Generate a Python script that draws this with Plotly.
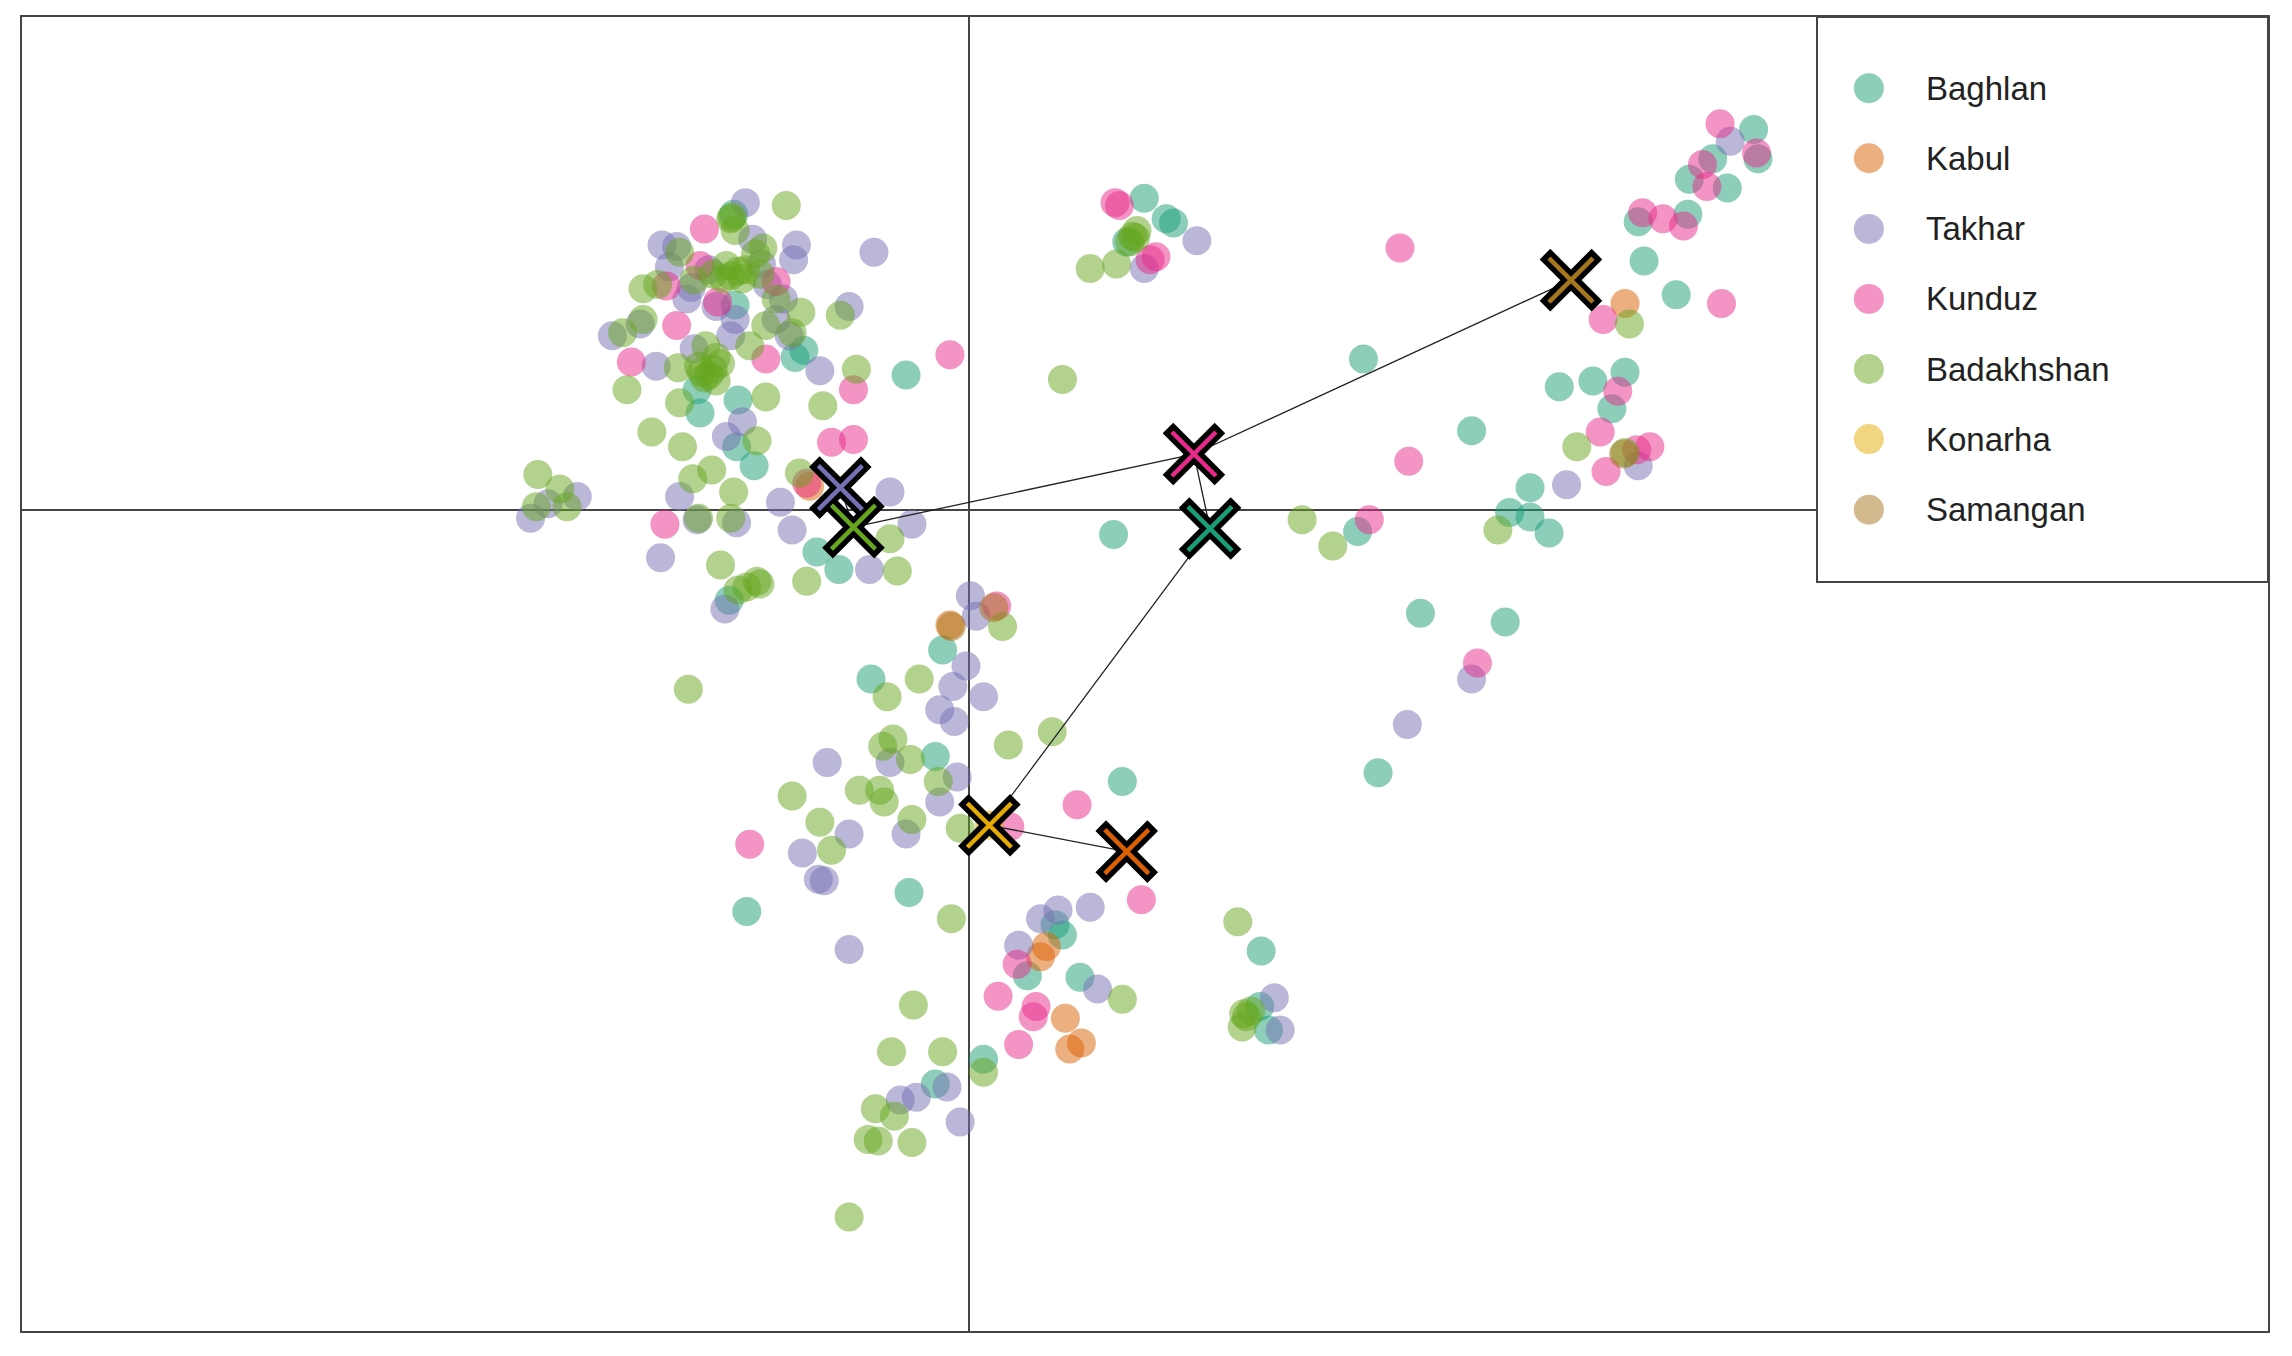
import plotly.graph_objects as go

# Scatter of individuals on the first two discriminant axes, coloured by province
GROUPS = ["Baghlan", "Kabul", "Takhar", "Kunduz", "Badakhshan", "Konarha", "Samangan"]
COLORS = ["#1B9E77", "#D95F02", "#7570B3", "#E7298A", "#66A61E", "#E6AB02", "#A6761D"]

baghlan_x = [-1.61, -1.19, -0.43, -1.58, -1.84, -1.59, -1.47, -1.04, -0.89, -1.64, -1.86, 1.20, 1.35, 1.40,
             1.08, 5.37, 5.40, 5.09, 4.93, 5.19, 4.58, 4.92, 4.62, 4.84, 4.04, 4.27, 4.49, 4.40, 3.44, 3.84,
             3.70, 3.84, 3.97, 2.66, 3.09, 3.67, 2.80, 2.70, 0.99, -0.18, -0.67, -0.23, -0.41, -1.52, 1.05,
             0.64, 0.59, 0.76, 0.40, 0.10, -0.23, 2.00, 1.99, 2.05, -1.60, -1.13]
baghlan_y = [2.02, 1.04, 0.92, 0.75, 0.66, 0.43, 0.30, -0.29, -0.41, -0.62, 0.82, 2.13, 1.99, 1.96,
             1.83, 2.60, 2.40, 2.40, 2.26, 2.20, 1.97, 2.02, 1.70, 1.47, 0.84, 0.88, 0.94, 0.69, 0.54, 0.15,
             -0.02, -0.05, -0.16, -0.15, -0.71, -0.77, -1.80, 1.03, -0.17, -0.96, -1.16, -1.69, -2.62, -2.75,
             -1.86, -2.91, -2.84, -3.20, -3.19, -3.76, -3.93, -3.02, -3.40, -3.56, 1.40, 1.09]

kabul_x = [4.49, 0.49, 0.53, 0.66, 0.77, 0.69, -0.13, -1.09]
kabul_y = [1.41, -3.06, -2.99, -3.48, -3.65, -3.69, -0.79, 0.16]

takhar_x = [-1.53, -2.10, -2.00, -1.18, -0.65, -1.20, -1.48, -1.27, -0.82, -2.44, -2.14, -1.02, -1.66,
            -1.98, -1.29, -0.54, -2.11, -1.86, -1.59, -1.21, -0.68, -0.39, -3.00, -2.68, -2.88, -1.73,
            -1.38, -1.93, -1.63, -1.23, -1.78, -1.67, 0.01, 0.05, -0.02, -0.11, 0.10, -0.20, -0.10, -0.54,
            -0.08, -0.97, -0.20, -0.43, -0.82, -1.14, -1.03, -0.82, -0.99, 0.49, 0.61, 0.83, 0.34, 0.88,
            -0.15, -0.36, -0.47, -0.06, 2.09, 2.13, 1.20, 1.56, 5.21, 4.58, 4.09, 3.44, 3.00,
            -2.05, -1.90, -1.42, -1.32, -1.60, -1.88, -1.55, -2.25]
takhar_y = [2.10, 1.81, 1.80, 1.81, 1.76, 1.71, 1.85, 1.44, 1.39, 1.19, 0.98, 0.95, 0.50,
            0.09, 0.05, 0.12, -0.33, -0.07, -0.09, -0.14, -0.41, -0.10, -0.06, 0.09, 0.04, 1.39,
            1.54, 1.44, 1.19, 1.19, 1.64, -0.68, -0.59, -0.73, -1.07, -1.21, -1.28, -1.37, -1.45, -1.73,
            -1.83, -1.73, -2.00, -2.22, -2.22, -2.35, -2.53, -3.01, -2.54, -2.80, -2.74, -2.72, -2.98, -3.28,
            -3.95, -4.02, -4.04, -4.19, -3.34, -3.56, 1.65, 1.84, 2.52, 0.30, 0.17, -1.16, -1.47,
            1.66, 1.52, 1.68, 1.30, 1.30, 1.10, 0.60, 1.27]

kunduz_x = [-1.81, -1.84, -2.07, -1.32, -2.00, -2.31, -1.39, -0.79, -0.13, -0.94, -0.79, -1.11, -2.08,
            -1.50, 0.19, 0.74, 0.28, 1.18, 0.33, 0.20, 0.46, 0.44, 0.34, 1.03, 1.00, 1.28, 1.24, 2.95,
            3.01, 2.74, 3.48, 5.14, 5.39, 5.02, 5.05, 4.75, 4.89, 4.61, 5.15, 4.34, 4.44, 4.32, 4.66,
            4.57, 4.36, -1.72]
kunduz_y = [1.92, 1.67, 1.53, 1.56, 1.26, 1.01, 1.03, 0.82, 1.06, 0.46, 0.48, 0.18, -0.10,
            -2.29, -0.66, -2.02, -2.17, -2.67, -3.11, -3.33, -3.40, -3.47, -3.66, 2.08, 2.10, 1.73, 1.71, 1.79,
            0.33, -0.07, -1.05, 2.64, 2.44, 2.36, 2.21, 1.99, 1.94, 2.03, 1.41, 1.30, 0.81, 0.53, 0.43,
            0.41, 0.26, 1.42]

badakhshan_x = [-1.25, -1.63, -1.60, -1.41, -1.98, -1.66, -1.53, -1.75, -1.43, -1.88, -2.23, -2.13, -1.32,
                -1.15, -0.88, -2.23, -2.37, -1.39, -1.21, -1.80, -1.73, -1.83, -1.75, -1.99, -2.34, -0.77,
                -1.39, -1.98, -1.00, -2.17, -1.96, -1.45, -1.89, -1.76, -1.61, -1.16, -2.95, -2.96, -2.75,
                -2.80, -1.85, -1.63, -0.54, -0.49, -1.11, -1.45, -1.58, -1.52, -1.43, 0.64, 1.12, 1.15, 0.83,
                1.01, 2.28, 2.49, 4.52, 4.16, 4.49, 3.62, -1.92, 0.23, -0.34, -0.56, -0.52, -0.59, -0.40,
                0.27, 0.57, -0.21, -0.75, -0.61, -0.58, -1.21, -0.06, -0.39, -1.02, -0.94, -0.12, -0.38,
                -0.53, -0.18, 0.10, -0.64, -0.51, -0.69, -0.62, -0.39, -0.82, 1.05, 1.84, 1.90, 1.87, 1.93,
                -1.63, -1.58, -1.68, -1.78, -1.81, -1.85, -1.73, -1.70, -1.50, -1.55, 1.14, 1.10, 1.88,
                -1.70, -1.46, -1.62]
badakhshan_y = [2.08, 1.99, 1.91, 1.79, 1.76, 1.67, 1.64, 1.61, 1.61, 1.57, 1.51, 1.54, 1.44,
                1.35, 1.33, 1.30, 1.21, 1.26, 1.21, 1.12, 1.04, 0.94, 0.96, 0.97, 0.82, 0.96,
                0.77, 0.73, 0.71, 0.53, 0.43, 0.47, 0.21, 0.27, 0.12, 0.25, 0.24, 0.02, 0.02,
                0.14, -0.06, -0.06, -0.20, -0.42, -0.49, -0.49, -0.55, -0.53, -0.51, 0.89, 1.87, 1.91, 1.65,
                1.68, -0.07, -0.25, 1.27, 0.43, 0.39, -0.14, -1.23, -0.80, -1.16, -1.28, -1.57, -1.62, -1.71,
                -1.61, -1.52, -1.86, -1.92, -1.92, -2.00, -1.96, -2.18, -2.12, -2.14, -2.33, -2.80, -3.39,
                -3.71, -3.71, -3.85, -4.10, -4.15, -4.31, -4.32, -4.33, -4.84, -3.35, -2.82, -3.47, -3.54, -3.43,
                1.60, 1.63, 1.58, 0.92, 0.90, 0.98, 0.88, 1.00, 1.12, 1.58, 1.86, 1.83, -3.45,
                -0.38, 1.75, 2.00]

konarha_x = [0.14]
konarha_y = [-2.16]

samangan_x = [-0.12, 0.17, 4.48]
samangan_y = [-0.80, -0.67, 0.38]

# group centroids (same order as GROUPS) and the minimum spanning tree between them
centroid_x = [1.65, 1.08, -0.88, 1.54, -0.79, 0.14, 4.12]
centroid_y = [-0.13, -2.34, 0.15, 0.38, -0.12, -2.16, 1.57]
MST = [("Takhar", "Badakhshan"), ("Badakhshan", "Kunduz"), ("Kunduz", "Samangan"),
       ("Kunduz", "Baghlan"), ("Baghlan", "Konarha"), ("Konarha", "Kabul")]

POINTS = {
    "Baghlan": (baghlan_x, baghlan_y),
    "Kabul": (kabul_x, kabul_y),
    "Takhar": (takhar_x, takhar_y),
    "Kunduz": (kunduz_x, kunduz_y),
    "Badakhshan": (badakhshan_x, badakhshan_y),
    "Konarha": (konarha_x, konarha_y),
    "Samangan": (samangan_x, samangan_y),
}


def rgba(hexcol, a):
    h = hexcol.lstrip("#")
    r, g, b = int(h[0:2], 16), int(h[2:4], 16), int(h[4:6], 16)
    return f"rgba({r},{g},{b},{a})"


fig = go.Figure()

for grp, col in zip(GROUPS, COLORS):
    xs, ys = POINTS[grp]
    fig.add_trace(go.Scatter(
        x=xs, y=ys, mode="markers", name=grp, showlegend=False,
        marker=dict(size=29, color=rgba(col, 0.5), line=dict(width=0)),
    ))

# spanning tree segments
idx = {g: i for i, g in enumerate(GROUPS)}
lx, ly = [], []
for a, b in MST:
    lx += [centroid_x[idx[a]], centroid_x[idx[b]], None]
    ly += [centroid_y[idx[a]], centroid_y[idx[b]], None]
fig.add_trace(go.Scatter(x=lx, y=ly, mode="lines", showlegend=False,
                         line=dict(color="#222222", width=1.3)))

# centroid crosses: black outline then coloured core
fig.add_trace(go.Scatter(
    x=centroid_x, y=centroid_y, mode="markers", showlegend=False,
    marker=dict(symbol="x-thin", size=52, line=dict(width=15, color="black")),
))
fig.add_trace(go.Scatter(
    x=centroid_x, y=centroid_y, mode="markers", showlegend=False,
    marker=dict(symbol="x-thin", size=44, line=dict(width=4.5, color=COLORS)),
))

# legend drawn on a hidden overlay axis so the symbols can be large
leg_y = [0.874, 0.750, 0.625, 0.501, 0.377, 0.253, 0.128]
fig.add_trace(go.Scatter(
    x=[0.115] * len(GROUPS), y=leg_y, mode="markers", xaxis="x2", yaxis="y2", showlegend=False,
    marker=dict(size=30, color=[rgba(c, 0.5) for c in COLORS], line=dict(width=0)),
))
for grp, yy in zip(GROUPS, leg_y):
    fig.add_annotation(x=0.237, y=yy, xref="x2", yref="y2", text=grp, showarrow=False,
                       xanchor="left", yanchor="middle",
                       font=dict(family="Liberation Sans, Arial", size=33, color="#222222"))

fig.add_shape(type="rect", xref="paper", yref="paper", x0=0.7992, x1=1.0, y0=0.570, y1=1.0,
              line=dict(color="#444444", width=2), fillcolor="rgba(0,0,0,0)")

fig.update_layout(
    width=2292, height=1356,
    margin=dict(l=22, r=24, t=17, b=25),
    paper_bgcolor="white", plot_bgcolor="white",
    showlegend=False,
    xaxis=dict(range=[-6.48, 8.89], showgrid=False, showticklabels=False, ticks="",
               zeroline=True, zerolinecolor="#444444", zerolinewidth=1.5,
               showline=True, mirror=True, linecolor="#444444", linewidth=2),
    yaxis=dict(range=[-5.62, 3.37], showgrid=False, showticklabels=False, ticks="",
               zeroline=True, zerolinecolor="#444444", zerolinewidth=1.5,
               showline=True, mirror=True, linecolor="#444444", linewidth=2),
    xaxis2=dict(domain=[0.7992, 1.0], range=[0, 1], visible=False, anchor="y2"),
    yaxis2=dict(domain=[0.570, 1.0], range=[0, 1], visible=False, anchor="x2"),
)

fig.write_html("out.html", config={"displayModeBar": False},
               post_script="document.body.style.margin='0';")
